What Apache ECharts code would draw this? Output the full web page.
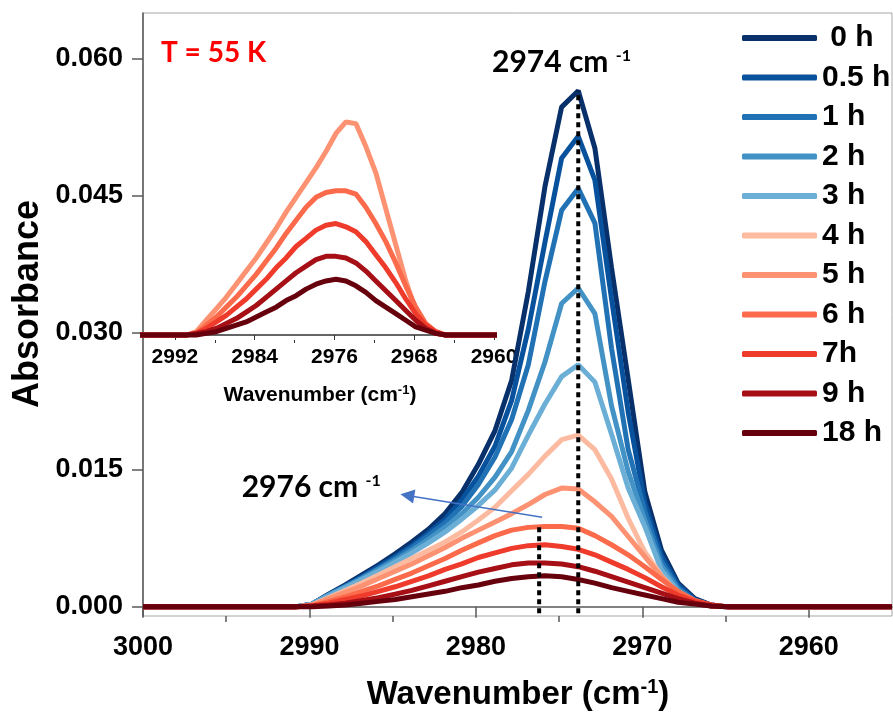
<!DOCTYPE html>
<html>
<head>
<meta charset="utf-8">
<script src="https://cdn.jsdelivr.net/npm/echarts@6/dist/echarts.min.js"></script>
<style>html,body{margin:0;padding:0;background:#fff;}#c{width:893px;height:721px;}</style>
</head>
<body>
<div id="c"></div>
<script>
// Wavenumber grid (cm-1)
const wavenumber = [3000, 2990.85, 2989.85, 2988.85, 2987.85, 2986.85, 2985.85, 2984.85, 2983.85, 2982.85, 2981.85, 2980.85, 2979.85, 2978.85, 2977.85, 2976.85, 2975.85, 2974.85, 2973.85, 2972.85, 2971.85, 2970.85, 2969.85, 2968.85, 2967.85, 2966.85, 2965.85, 2964.85, 2955];
// Absorbance per time
const abs0h  = [0,0,0.0003,0.0014,0.0024,0.0035,0.0046,0.0058,0.0071,0.0085,0.0102,0.0125,0.0156,0.0193,0.0248,0.0345,0.0460,0.0547,0.0565,0.0502,0.0371,0.0249,0.0126,0.0062,0.0026,0.0009,0.0002,0,0];
const abs05h = [0,0,0.0003,0.0013,0.0023,0.0033,0.0044,0.0055,0.0067,0.0081,0.0096,0.0117,0.0143,0.0176,0.0226,0.0304,0.0399,0.0491,0.0515,0.0467,0.0337,0.0213,0.0114,0.0056,0.0024,0.0008,0.0002,0,0];
const abs1h  = [0,0,0.0003,0.0013,0.0022,0.0032,0.0042,0.0053,0.0065,0.0078,0.0092,0.0110,0.0134,0.0164,0.0205,0.0265,0.0356,0.0434,0.0458,0.0420,0.0283,0.0172,0.0105,0.0050,0.0021,0.0007,0.0001,0,0];
const abs2h  = [0,0,0.0003,0.0013,0.0022,0.0031,0.0041,0.0051,0.0062,0.0074,0.0087,0.0102,0.0120,0.0142,0.0170,0.0215,0.0268,0.0332,0.0349,0.0321,0.0220,0.0148,0.0095,0.0045,0.0019,0.0006,0.0001,0,0];
const abs3h  = [0,0,0.0003,0.0012,0.0021,0.0030,0.0039,0.0049,0.0059,0.0070,0.0082,0.0096,0.0111,0.0128,0.0152,0.0188,0.0222,0.0252,0.0265,0.0246,0.0189,0.0130,0.0088,0.0040,0.0017,0.0005,0.0001,0,0];
const abs4h  = [0,0,0.0002,0.0010,0.0018,0.0026,0.0035,0.0044,0.0053,0.0062,0.0071,0.0082,0.0095,0.0109,0.0127,0.0145,0.0165,0.0183,0.0188,0.0172,0.0140,0.0097,0.0060,0.0034,0.0015,0.0005,0.0001,0,0];
const abs5h  = [0,0,0.0002,0.0009,0.0016,0.0023,0.0031,0.0039,0.0047,0.0056,0.0065,0.0075,0.0084,0.0093,0.0102,0.0112,0.0123,0.0130,0.0129,0.0115,0.0099,0.0077,0.0055,0.0033,0.0015,0.0005,0.0001,0,0];
const abs6h  = [0,0,0.0001,0.0006,0.0011,0.0017,0.0023,0.0030,0.0037,0.0045,0.0053,0.0062,0.0070,0.0078,0.0084,0.0087,0.0088,0.0088,0.0086,0.0078,0.0068,0.0057,0.0044,0.0030,0.0017,0.0007,0.0002,0,0];
const abs7h  = [0,0,0.0001,0.0004,0.0008,0.0012,0.0017,0.0022,0.0028,0.0034,0.0041,0.0047,0.0054,0.0059,0.0064,0.0067,0.0068,0.0066,0.0063,0.0057,0.0049,0.0041,0.0032,0.0022,0.0013,0.0006,0.0002,0,0];
const abs9h  = [0,0,0.0001,0.0002,0.0004,0.0007,0.0010,0.0014,0.0018,0.0023,0.0028,0.0033,0.0038,0.0042,0.0046,0.0048,0.0048,0.0047,0.0044,0.0039,0.0033,0.0027,0.0021,0.0015,0.0009,0.0004,0.0001,0,0];
const abs18h = [0,0,0,0.0001,0.0002,0.0004,0.0006,0.0008,0.0011,0.0014,0.0017,0.0021,0.0024,0.0028,0.0031,0.0033,0.0034,0.0033,0.0030,0.0026,0.0021,0.0017,0.0013,0.0009,0.0005,0.0003,0.0001,0,0];

const seriesNames = [' 0 h', '0.5 h', '1 h', '2 h', '3 h', '4 h', '5 h', '6 h', '7h', '9 h', '18 h'];
const seriesValues = [abs0h, abs05h, abs1h, abs2h, abs3h, abs4h, abs5h, abs6h, abs7h, abs9h, abs18h];
const seriesColors = ['#08306b', '#08519c', '#2171b5', '#4292c6', '#6baed6', '#fcbba1', '#fc9272', '#fb6a4a', '#ef3b2c', '#a50f15', '#67000d'];
const insetNames = ['5 h', '6 h', '7h', '9 h', '18 h'];

// tick labels
const mainXTicks = [3000, 2990, 2980, 2970, 2960];
const mainXMinor = [2995, 2985, 2975, 2965];
const mainYTicks = [0, 0.015, 0.030, 0.045, 0.060];
const insetXTicks = [2992, 2984, 2976, 2968, 2960];
const insetXMinor = [2988, 2980, 2972, 2964];

// annotations
const peak2974 = {wn: 2973.85, top: 0.0565, bottom: -0.0007};
const peak2976 = {wn: 2976.2, top: 0.0089, bottom: -0.0007};
const arrowFrom = [2976.02, 0.0098];
const arrowTo = [2984.12, 0.0122];

const pairs = vals => wavenumber.map((w, i) => [w, vals[i]]);
const FONT = 'Liberation Sans, Arial, sans-serif';

const series = [];
insetNames.forEach(n => {
  const k = seriesNames.indexOf(n);
  series.push({
    name: n, type: 'line', xAxisIndex: 2, yAxisIndex: 1,
    data: pairs(seriesValues[k]), symbol: 'none', color: seriesColors[k],
    lineStyle: {width: 5, color: seriesColors[k]}, clip: true, z: 2
  });
});
seriesNames.forEach((n, k) => {
  series.push({
    name: n, type: 'line', xAxisIndex: 0, yAxisIndex: 0,
    data: pairs(seriesValues[k]), symbol: 'none', color: seriesColors[k],
    lineStyle: {width: 5, color: seriesColors[k]}, clip: true, z: 3
  });
});
[peak2974, peak2976].forEach(p => {
  series.push({
    type: 'line', xAxisIndex: 0, yAxisIndex: 0, symbol: 'none', z: 5,
    data: [[p.wn, p.bottom], [p.wn, p.top]],
    lineStyle: {color: '#000', width: 4, type: [5, 4]}
  });
});
series.push({
  type: 'line', xAxisIndex: 0, yAxisIndex: 0, symbol: 'none', z: 6, data: [],
  markLine: {
    silent: true, symbol: ['none', 'triangle'], symbolSize: 14,
    label: {show: false},
    lineStyle: {color: '#4472c4', width: 1.5, type: 'solid'},
    itemStyle: {color: '#4472c4'},
    data: [[{coord: arrowFrom}, {coord: arrowTo}]]
  }
});

const plain = v => String(v);
const option = {
  animation: false,
  backgroundColor: '#fff',
  grid: [
    {left: 143, right: 1, top: 13, bottom: 105, show: true, borderColor: '#a6a6a6', borderWidth: 1},
    {left: 143, top: 13, width: 351, height: 327}
  ],
  xAxis: [
    {gridIndex: 0, type: 'value', min: 2955, max: 3000, inverse: true,
     axisLine: {show: true, lineStyle: {color: '#595959', width: 1.5}},
     axisTick: {show: true, length: 11, customValues: mainXTicks, lineStyle: {color: '#595959', width: 1.5}},
     axisLabel: {customValues: mainXTicks, formatter: plain, margin: 18, color: '#000', fontFamily: FONT, fontWeight: 'bold', fontSize: 27},
     splitLine: {show: false}},
    {gridIndex: 0, type: 'value', min: 2955, max: 3000, inverse: true, position: 'bottom',
     axisLine: {show: false},
     axisTick: {show: true, length: 6, customValues: mainXMinor, lineStyle: {color: '#595959', width: 1.5}},
     axisLabel: {show: false}, splitLine: {show: false}},
    {gridIndex: 1, type: 'value', min: 2960, max: 2995.2, inverse: true,
     axisLine: {show: true, lineStyle: {color: '#333', width: 1.5}},
     axisTick: {show: true, length: 5, customValues: insetXTicks, lineStyle: {color: '#333', width: 1}},
     axisLabel: {customValues: insetXTicks, formatter: plain, margin: 7, color: '#000', fontFamily: FONT, fontWeight: 'bold', fontSize: 21},
     splitLine: {show: false}},
    {gridIndex: 1, type: 'value', min: 2960, max: 2995.2, inverse: true, position: 'bottom',
     axisLine: {show: false},
     axisTick: {show: true, length: 3, customValues: insetXMinor, lineStyle: {color: '#333', width: 1}},
     axisLabel: {show: false}, splitLine: {show: false}}
  ],
  yAxis: [
    {gridIndex: 0, type: 'value', min: -0.001, max: 0.065,
     axisLine: {show: true, lineStyle: {color: '#595959', width: 1.5}},
     axisTick: {show: true, length: 11, customValues: mainYTicks, lineStyle: {color: '#595959', width: 1.5}},
     axisLabel: {customValues: mainYTicks, margin: 20, color: '#000', fontFamily: FONT, fontWeight: 'bold', fontSize: 27,
                 formatter: v => v.toFixed(3)},
     splitLine: {show: false}},
    {gridIndex: 1, type: 'value', min: -0.000305, max: 0.01965, show: false, splitLine: {show: false}}
  ],
  legend: {
    data: seriesNames, orient: 'vertical', left: 737, top: 18,
    icon: 'roundRect', itemWidth: 75, itemHeight: 6, itemGap: 9.5, selectedMode: false,
    textStyle: {fontFamily: FONT, fontWeight: 'bold', fontSize: 30, lineHeight: 30, color: '#000'}
  },
  graphic: [
    {type: 'text', x: 161, y: 52.7, z: 10, style: {text: 'T = 55 K', fill: '#ff0000', font: 'bold 28px Lato', align: 'left', verticalAlign: 'middle'}},
    {type: 'text', x: 492, y: 62.5, z: 10, style: {text: '{a|2974 cm }{s|-1}', align: 'left', verticalAlign: 'middle',
      rich: {a: {font: 'bold 30px Lato', fill: '#000', lineHeight: 30}, s: {font: 'bold 16px Lato', fill: '#000', lineHeight: 20, verticalAlign: 'top'}}}},
    {type: 'text', x: 241.7, y: 487.5, z: 10, style: {text: '{a|2976 cm }{s|-1}', align: 'left', verticalAlign: 'middle',
      rich: {a: {font: 'bold 30px Lato', fill: '#000', lineHeight: 30}, s: {font: 'bold 16px Lato', fill: '#000', lineHeight: 20, verticalAlign: 'top'}}}},
    {type: 'text', x: 28, y: 304, rotation: Math.PI / 2, z: 10, style: {text: 'Absorbance', font: 'bold 36px ' + FONT, fill: '#000', align: 'center', verticalAlign: 'middle'}},
    {type: 'text', x: 518, y: 695, z: 10, style: {text: '{a|Wavenumber (cm}{s|-1}{a|)}', align: 'center', verticalAlign: 'middle',
      rich: {a: {font: 'bold 33px ' + FONT, fill: '#000', lineHeight: 36}, s: {font: 'bold 20px ' + FONT, fill: '#000', lineHeight: 20, verticalAlign: 'top'}}}},
    {type: 'text', x: 320, y: 395, z: 10, style: {text: '{a|Wavenumber (cm}{s|-1}{a|)}', align: 'center', verticalAlign: 'middle',
      rich: {a: {font: 'bold 21px ' + FONT, fill: '#000', lineHeight: 22}, s: {font: 'bold 13px ' + FONT, fill: '#000', lineHeight: 11, verticalAlign: 'top'}}}}
  ],
  series: series
};
const chart = echarts.init(document.getElementById('c'), null, {renderer: 'canvas'});
chart.setOption(option);
</script>
</body>
</html>
